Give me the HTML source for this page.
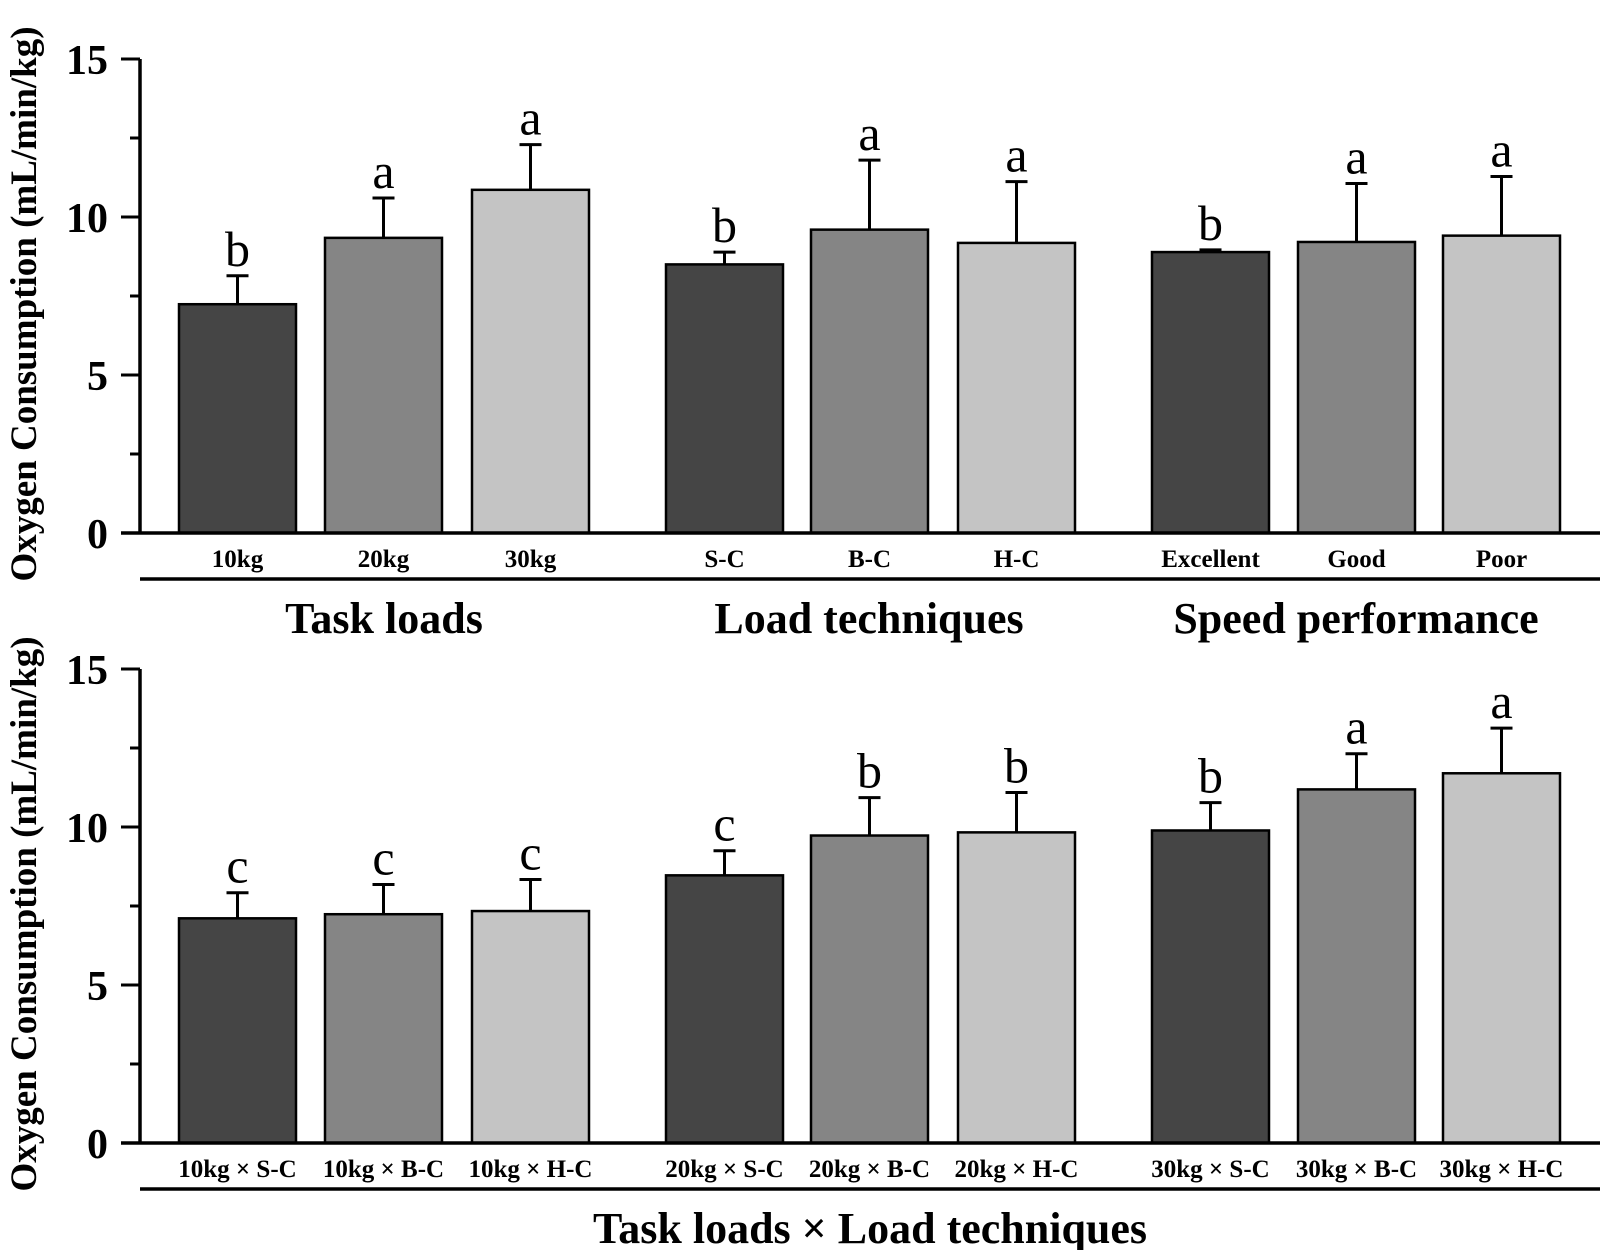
<!DOCTYPE html>
<html><head><meta charset="utf-8"><style>
html,body{margin:0;padding:0;background:#fff;}
svg{display:block;font-family:"Liberation Serif",serif;}
</style></head><body>
<svg id="chart" width="1600" height="1250" viewBox="0 0 1600 1250" xmlns="http://www.w3.org/2000/svg"></svg>
<script>
// Top panel data
const topCategories = ["10kg","20kg","30kg","S-C","B-C","H-C","Excellent","Good","Poor"];
const topMeans = [7.24,9.34,10.86,8.5,9.6,9.18,8.89,9.21,9.41];
const topErrTops = [8.14,10.6,12.29,8.89,11.8,11.12,8.96,11.06,11.28];
const topLetters = ["b","a","a","b","a","a","b","a","a"];
const topGroups = ["Task loads","Load techniques","Speed performance"];
// Bottom panel data
const botCategories = ["10kg × S-C","10kg × B-C","10kg × H-C","20kg × S-C","20kg × B-C","20kg × H-C","30kg × S-C","30kg × B-C","30kg × H-C"];
const botMeans = [7.11,7.24,7.34,8.47,9.73,9.83,9.89,11.19,11.7];
const botErrTops = [7.92,8.18,8.34,9.25,10.93,11.09,10.77,12.32,13.13];
const botLetters = ["c","c","c","c","b","b","b","a","a"];
const botGroups = ["Task loads × Load techniques"];
const yTicks = [0,5,10,15];

const svg = document.getElementById('chart');
const NS = "http://www.w3.org/2000/svg";
function mk(tag, attrs, parent){const e=document.createElementNS(NS,tag);for(const k in attrs)e.setAttribute(k,attrs[k]);(parent||svg).appendChild(e);return e;}
const fills = ["#454545","#858585","#c4c4c4"];
const barLefts = [179,325,472,666,811,958,1152,1298,1443];
const barW = 117;

function panel(y0, cats, means, errs, letters, groups, groupCenters, groupY, underlineY, name){
  const g = mk('g',{});
  
  
  const yScale = v => y0 - v*31.6;
  cats.forEach((c,i)=>{
    const x = barLefts[i], cx = x+barW/2;
    const bar = mk('rect',{x:x,y:yScale(means[i]),width:barW,height:y0-yScale(means[i]),fill:fills[i%3],stroke:"#000","stroke-width":2.5},g);
    
    
    const eb = mk('path',{d:`M${cx} ${yScale(means[i])}V${yScale(errs[i])}M${cx-11} ${yScale(errs[i])}H${cx+11}`,stroke:"#000","stroke-width":3,fill:"none"},g);
    
    
    const lt = mk('text',{x:cx,y:yScale(errs[i])-10,"text-anchor":"middle","font-size":50},g);
    lt.textContent = letters[i];
    
    
    const cl = mk('text',{x:cx,y:y0+34,"text-anchor":"middle","font-size":25,"font-weight":"bold"},g);
    cl.textContent = c;
    
    
  });
  const ax = mk('path',{d:`M140 ${yScale(15)}V${y0}M121 ${y0}H1600`,stroke:"#000","stroke-width":3.5,fill:"none"},g);
  
  
  for(let v=0; v<=15; v+=2.5){
    const major = v%5===0;
    const t = mk('line',{x1:major?121:130,x2:140,y1:yScale(v),y2:yScale(v),stroke:"#000","stroke-width":3},g);
    
    
  }
  yTicks.forEach(v=>{
    const t = mk('text',{x:108,y:yScale(v)+15,"text-anchor":"end","font-size":42,"font-weight":"bold"},g);
    t.textContent = v;
    
    
  });
  const ul = mk('line',{x1:140,x2:1600,y1:underlineY,y2:underlineY,stroke:"#000","stroke-width":3.5},g);
  
  
  groups.forEach((gr,i)=>{
    const t = mk('text',{x:groupCenters[i],y:groupY,"text-anchor":"middle","font-size":44,"font-weight":"bold"},g);
    t.textContent = gr;
    
    
  });
  const yt = mk('text',{x:0,y:0,"text-anchor":"middle","font-size":37,"font-weight":"bold",transform:`translate(36 ${(yScale(15)+y0)/2+8}) rotate(-90)`},g);
  yt.textContent = "Oxygen Consumption (mL/min/kg)";
  
  
}
panel(533, topCategories, topMeans, topErrTops, topLetters, topGroups, [384,869,1356], 633, 579, 'top-panel');
panel(1143, botCategories, botMeans, botErrTops, botLetters, botGroups, [870], 1243, 1189, 'bottom-panel');
</script>
</body></html>
